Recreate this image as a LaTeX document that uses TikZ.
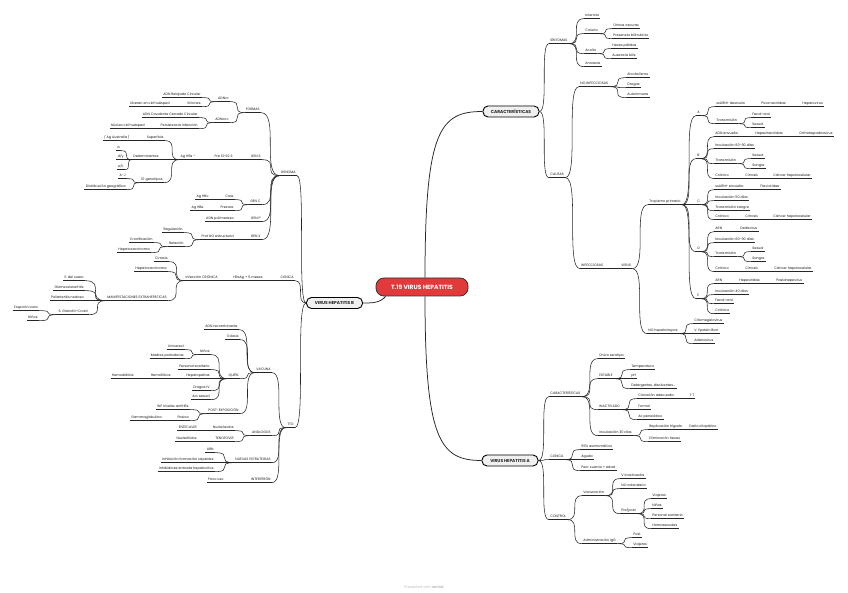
\documentclass[tikz,border=0pt]{standalone}
\usepackage{fontspec}
\setmainfont{Poppins}
\newfontfamily\dv{DejaVu Sans}
\definecolor{ink}{HTML}{262626}
\definecolor{redn}{HTML}{E23A3A}
\newcommand\fs{\fontsize{3.4}{4}\selectfont}
\tikzset{
  ln/.style={draw=ink, line width=0.55pt},
  lnb/.style={draw=ink, line width=0.75pt},
  tp/.style={font=\fs, text=black!90, inner xsep=1.2pt, inner ysep=0.9pt, text height=2.4pt, text depth=0.7pt},
  box/.style={draw=black, line width=0.9pt, fill=black!6, rounded corners=5pt, minimum width=56pt, minimum height=11pt, inner sep=1pt, font=\fontsize{4.3}{5}\selectfont\bfseries, text=black!85},
  title/.style={draw=black!80, line width=0.8pt, fill=redn, rounded corners=8pt, minimum width=92pt, minimum height=18pt, inner sep=1pt, font=\fontsize{6}{7}\selectfont\bfseries, text=white}
}
\newcommand{\TR}[3]{\node[tp,anchor=west] (#1) at (#2) {#3}; \draw[ln] (#1.south west) -- (#1.south east);}
\newcommand{\TL}[3]{\node[tp,anchor=east] (#1) at (#2) {#3}; \draw[ln] (#1.south west) -- (#1.south east);}
\newcommand{\cR}[2]{\draw[ln] (#1.south east) .. controls (#1.south east -| #2.south west) and (#2.south west -| #1.south east) .. (#2.south west);}
\newcommand{\cL}[2]{\draw[ln] (#1.south west) .. controls (#1.south west -| #2.south east) and (#2.south east -| #1.south west) .. (#2.south east);}
\newcommand{\cRb}[2]{\draw[ln] (#1.east) .. controls (#1.east -| #2.south west) and (#2.south west -| #1.east) .. (#2.south west);}
\newcommand{\cLb}[2]{\draw[ln] (#1.west) .. controls (#1.west -| #2.south east) and (#2.south east -| #1.west) .. (#2.south east);}
\begin{document}
\begin{tikzpicture}[x=1pt,y=-1pt]
\fill[white] (0,0) rectangle (848,593);
\useasboundingbox (0,0) rectangle (848,593);

% main nodes
\node[title] (root) at (422,287) {T.19 VIRUS HEPATITIS};
\node[box] (car) at (511,111.5) {CARACTERÍSTICAS};
\node[box] (vha) at (510,460.5) {VIRUS HEPATITIS A};
\node[box] (vhb) at (334.5,303) {VIRUS HEPATITIS B};
\draw[lnb] ([xshift=3pt]root.north) .. controls (425,130) and (440,111.5) .. (car.west);
\draw[lnb] ([xshift=3pt]root.south) .. controls (425,440) and (440,460.5) .. (vha.west);
\draw[lnb] ([xshift=10pt]root.south west) .. controls (380,303) and (372,303) .. (vhb.east);

% ---------- CARACTERISTICAS ----------
\TR{sin}{549,41}{SÍNTOMAS}
\TR{ict}{584,16}{Ictericia}
\TR{col}{584,31}{Coluria}
\TR{ori}{612,26}{Orinas oscuras}
\TR{pbi}{612,36}{Presencia bilirrubina}
\TR{aco}{584,51}{Acolia}
\TR{hpa}{611,46}{Heces pálidas}
\TR{abi}{611,56}{Ausencia bilis}
\TR{ano}{584,64}{Anorexia}
\TR{cau}{549,175}{CAUSAS}
\TR{noi}{579,84}{NO INFECCIOSAS}
\TR{alc}{626,75}{Alcoholismo}
\TR{dro}{626,85}{Drogas}
\TR{aut}{626,95}{Autoinmune}
\TR{inf}{580,266}{INFECCIOSAS}
\TR{vir}{620,266}{VIRUS}
\TR{tro}{648,202}{Tropismo primario}
\TR{nht}{647,331}{NO hepatotropos}
\TR{cmv}{693,321}{Citomegalovirus}
\TR{veb}{693,331}{V. Epstein Barr}
\TR{ade}{693,341}{Adenovirus}

\TR{A}{696,113}{A}
\TR{a1}{715,104}{ssARN+ desnudo}
\TR{a2}{760,104}{Picornaviridae}
\TR{a3}{801,104}{Hepatovirus}
\TR{a4}{715,121}{Transmisión}
\TR{a5}{751,115}{Fecal-oral}
\TR{a6}{751,125}{Sexual}

\TR{B}{696,156}{B}
\TR{b1}{714,134}{ADN envuelto}
\TR{b2}{754,134}{Hepadnaviridae}
\TR{b3}{798,134}{Orthohepadnavirus}
\TR{b4}{714,146}{Incubación 60-90 días}
\TR{b5}{714,161}{Transmisión}
\TR{b6}{751,156}{Sexual}
\TR{b7}{751,166}{Sangre}
\TR{b8}{714,176}{Crónico}
\TR{b9}{744,176}{Cirrosis}
\TR{b10}{772,176}{Cáncer hepatocelular}

\TR{C}{696,202}{C}
\TR{c1}{714,187}{ssARN+ envuelto}
\TR{c2}{759,187}{Flaviviridae}
\TR{c3}{714,198}{Incubación 50 días}
\TR{c4}{714,208}{Transmisión sangre}
\TR{c5}{714,217}{Crónico}
\TR{c6}{744,217}{Cirrosis}
\TR{c7}{772,217}{Cáncer hepatocelular}

\TR{D}{696,249}{D}
\TR{d1}{714,229}{ARN}
\TR{d2}{739,229}{Deltavirus}
\TR{d3}{714,240}{Incubación 60-90 días}
\TR{d4}{714,254}{Transmisión}
\TR{d5}{751,249}{Sexual}
\TR{d6}{751,259}{Sangre}
\TR{d7}{714,269}{Crónico}
\TR{d8}{744,269}{Cirrosis}
\TR{d9}{773,269}{Cáncer hepatocelular}

\TR{E}{696,296}{E}
\TR{e1}{714,281}{ARN}
\TR{e2}{738,281}{Hepeviridae}
\TR{e3}{775,281}{Paslahepevirus}
\TR{e4}{714,292}{Incubación 40 días}
\TR{e5}{714,301}{Fecal-oral}
\TR{e6}{714,311}{Crónica}

\cRb{car}{sin} \cRb{car}{cau}
\cR{sin}{ict} \cR{sin}{col} \cR{sin}{aco} \cR{sin}{ano}
\cR{col}{ori} \cR{col}{pbi} \cR{aco}{hpa} \cR{aco}{abi}
\cR{cau}{noi} \cR{cau}{inf}
\cR{noi}{alc} \cR{noi}{dro} \cR{noi}{aut}
\cR{inf}{vir} \cR{vir}{tro} \cR{vir}{nht}
\cR{nht}{cmv} \cR{nht}{veb} \cR{nht}{ade}
\cR{tro}{A} \cR{tro}{B} \cR{tro}{C} \cR{tro}{D} \cR{tro}{E}
\cR{A}{a1} \cR{a1}{a2} \cR{a2}{a3} \cR{A}{a4} \cR{a4}{a5} \cR{a4}{a6}
\cR{B}{b1} \cR{b1}{b2} \cR{b2}{b3} \cR{B}{b4} \cR{B}{b5} \cR{b5}{b6} \cR{b5}{b7} \cR{B}{b8} \cR{b8}{b9} \cR{b9}{b10}
\cR{C}{c1} \cR{c1}{c2} \cR{C}{c3} \cR{C}{c4} \cR{C}{c5} \cR{c5}{c6} \cR{c6}{c7}
\cR{D}{d1} \cR{d1}{d2} \cR{D}{d3} \cR{D}{d4} \cR{d4}{d5} \cR{d4}{d6} \cR{D}{d7} \cR{d7}{d8} \cR{d8}{d9}
\cR{E}{e1} \cR{e1}{e2} \cR{e2}{e3} \cR{E}{e4} \cR{E}{e5} \cR{E}{e6}

% ---------- VIRUS HEPATITIS A ----------
\TR{vcar}{549,394}{CARACTERÍSTICAS}
\TR{uni}{598,356}{Único serotipo}
\TR{est}{598,376}{ESTABLE}
\TR{tem}{630,367}{Temperatura}
\TR{ph}{630,376}{pH}
\TR{det}{630,386}{Detergentes, disolventes...}
\TR{ina}{598,407}{INACTIVADO}
\TR{clo}{637,396}{Cloración adecuada}
\TR{uT}{688,396}{{\dv ↑}T}
\TR{fml}{637,407}{Formol}
\TR{acp}{637,417}{Ac peracético}
\TR{inc}{598,433}{Incubación 30 días}
\TR{rep}{648,427}{Replicación hígado}
\TR{dan}{688,427}{Daño citopático}
\TR{eli}{648,439}{Eliminación heces}
\TR{cli}{549,457}{CLÍNICA}
\TR{asi}{580,447}{95\% asintomática}
\TR{agu}{580,457}{Aguda}
\TR{peo}{580,468}{Peor cuanto + edad}
\TR{con}{549,517}{CONTROL}
\TR{vac}{582,493}{Vacunación}
\TR{vin}{620,476}{V inactivados}
\TR{noc}{620,486}{NO calendario}
\TR{pro}{620,511}{Pre/post}
\TR{via}{651,496}{Viajeros}
\TR{nin}{651,506}{Niños}
\TR{per}{651,516}{Personal sanitario}
\TR{hom}{651,526}{Homosexuales}
\TR{adm}{582,541}{Administración IgG}
\TR{pos}{632,535}{Post}
\TR{via2}{632,545}{Viajeros}

\cRb{vha}{vcar} \cRb{vha}{cli} \cRb{vha}{con}
\cR{vcar}{uni} \cR{vcar}{est} \cR{vcar}{ina} \cR{vcar}{inc}
\cR{est}{tem} \cR{est}{ph} \cR{est}{det}
\cR{ina}{clo} \cR{clo}{uT} \cR{ina}{fml} \cR{ina}{acp}
\cR{inc}{rep} \cR{rep}{dan} \cR{inc}{eli}
\cR{cli}{asi} \cR{cli}{agu} \cR{cli}{peo}
\cR{con}{vac} \cR{con}{adm}
\cR{vac}{vin} \cR{vac}{noc} \cR{vac}{pro}
\cR{pro}{via} \cR{pro}{nin} \cR{pro}{per} \cR{pro}{hom}
\cR{adm}{pos} \cR{adm}{via2}

% ---------- VIRUS HEPATITIS B ----------
\TL{Lgen}{297,173}{GENOMA}
\TL{Lfor}{261,110}{FORMAS}
\TL{Lrc}{230,99}{ADNrc}
\TL{Lrc1}{202,95}{ADN Relajado Circular}
\TL{Lrc2}{202,104}{Viriones}
\TL{Lrc3}{171,104}{Liberan en cél huésped}
\TL{Lccc}{230,120}{ADNccc}
\TL{Lccc1}{199,115}{ADN Covalente Cerrado Circular}
\TL{Lccc2}{199,126}{Persistencia infección}
\TL{Lccc3}{146,126}{Núcleo cél huésped}
\TL{Lgs}{262,157}{GEN S}
\TL{Lpre}{234,157}{Pre S1-S2 S}
\TL{Lhbs}{197,157}{Ag HBs –}
\TL{Lsup}{165,138}{Superficie}
\TL{Laus}{131,138}{/ Ag Australia /}
\TL{Ldet}{160,157}{Determinantes}
\TL{La}{121,148}{a}
\TL{Ldy}{125,157}{d/y}
\TL{Lwr}{125,167}{w/r}
\TL{Lgeno}{164,180}{10 genotipos}
\TL{Laj}{127,176}{A-J}
\TL{Ldis}{127,187}{Distribución geográfica}
\TL{Lgc}{262,202}{GEN C}
\TL{Lcore}{235,197}{Core}
\TL{Lhbc}{210,197}{Ag HBc}
\TL{Lprec}{235,208}{Precore}
\TL{Lhbe}{205,208}{Ag HBe}
\TL{Lgp}{262,219}{GEN P}
\TL{Lpol}{235,219}{ADN polimerasa}
\TL{Lgx}{262,237}{GEN X}
\TL{Lprot}{235,237}{Prot NO estructural}
\TL{Lreg}{184,230}{Regulación}
\TL{Lrel}{185,244}{Relación}
\TL{Lcro}{154,240}{Cronificación}
\TL{Lhep}{151,250}{Hepatocarcinoma}
\TL{Lcli}{295,278}{CLÍNICA}
\TL{Lhbsag}{264,278}{HBsAg + 6 meses}
\TL{Linf}{219,278}{Infección CRÓNICA}
\TL{Lcir}{169,259}{Cirrosis}
\TL{Lhep2}{168,269}{Hepatocarcinoma}
\TL{Lman}{168,298}{MANIFESTACIONES EXTRAHEPÁTICAS}
\TL{Lsue}{85,278}{E. del suero}
\TL{Lglo}{85,288}{Glomerulonefritis}
\TL{Lpol2}{85,298}{Poliarteritis nodosa}
\TL{Lgia}{89,312}{S. Gianotti-Crosti}
\TL{Leru}{39,308}{Erupción cara}
\TL{Lnin}{39,318}{Niños}
\TL{Ltto}{295,425}{TTO}
\TL{Lvac}{272,370}{VACUNA}
\TL{Ladn}{239,327}{ADN recombinante}
\TL{L3d}{240,337}{3 dosis}
\TL{Lqui}{240,376}{QUIÉN}
\TL{Lnin2}{211,352}{Niños}
\TL{Luni}{185,347}{Universal}
\TL{Lmad}{185,356}{Madres portadoras}
\TL{Lps}{211,367}{Personal sanitario}
\TL{Lhpt}{211,376}{Hepatopatías}
\TL{Lhmf}{172,376}{Hemofílicos}
\TL{Lhmd}{135,376}{Hemodiálisis}
\TL{Ldiv}{211,388}{Drogas IV}
\TL{Lact}{211,397}{Act sexual}
\TL{Lpex}{240,411}{POST-EXPOSICIÓN}
\TL{Linf2}{190,407}{INF niveles antiHBs}
\TL{Lpas}{190,418}{Pasiva}
\TL{Lgam}{163,418}{Gammaglobulina}
\TL{Lana}{272,433}{ANÁLOGOS}
\TL{Lnsd}{235,428}{Nucleósidos}
\TL{Lent}{198,428}{ENTECAVIR}
\TL{Lten}{235,439}{TENOFOVIR}
\TL{Lntd}{198,439}{Nucleótidos}
\TL{Lnue}{272,460}{NUEVAS ESTRATEGIAS}
\TL{Larn}{215,450}{ARN}
\TL{Linh}{215,460}{Inhibición formación cápsides}
\TL{Linh2}{215,469}{Inhibidores entrada hepatocitos}
\TL{Lint}{272,480}{INTERFERÓN}
\TL{Lpoc}{225,480}{Poco uso}

\cLb{vhb}{Lgen} \cLb{vhb}{Lcli} \cLb{vhb}{Ltto}
\cL{Lgen}{Lfor} \cL{Lgen}{Lgs} \cL{Lgen}{Lgc} \cL{Lgen}{Lgp} \cL{Lgen}{Lgx}
\cL{Lfor}{Lrc} \cL{Lfor}{Lccc}
\cL{Lrc}{Lrc1} \cL{Lrc}{Lrc2} \cL{Lrc2}{Lrc3}
\cL{Lccc}{Lccc1} \cL{Lccc}{Lccc2} \cL{Lccc2}{Lccc3}
\cL{Lgs}{Lpre} \cL{Lpre}{Lhbs}
\cL{Lhbs}{Lsup} \cL{Lhbs}{Ldet} \cL{Lhbs}{Lgeno}
\cL{Lsup}{Laus}
\cL{Ldet}{La} \cL{Ldet}{Ldy} \cL{Ldet}{Lwr}
\cL{Lgeno}{Laj} \cL{Lgeno}{Ldis}
\cL{Lgc}{Lcore} \cL{Lgc}{Lprec} \cL{Lcore}{Lhbc} \cL{Lprec}{Lhbe}
\cL{Lgp}{Lpol}
\cL{Lgx}{Lprot} \cL{Lprot}{Lreg} \cL{Lprot}{Lrel} \cL{Lrel}{Lcro} \cL{Lrel}{Lhep}
\cL{Lcli}{Lhbsag} \cL{Lhbsag}{Linf}
\cL{Linf}{Lcir} \cL{Linf}{Lhep2} \cL{Linf}{Lman}
\cL{Lman}{Lsue} \cL{Lman}{Lglo} \cL{Lman}{Lpol2} \cL{Lman}{Lgia}
\cL{Lgia}{Leru} \cL{Lgia}{Lnin}
\cL{Ltto}{Lvac} \cL{Ltto}{Lana} \cL{Ltto}{Lnue} \cL{Ltto}{Lint}
\cL{Lvac}{Ladn} \cL{Lvac}{L3d} \cL{Lvac}{Lqui} \cL{Lvac}{Lpex}
\cL{Lqui}{Lnin2} \cL{Lqui}{Lps} \cL{Lqui}{Lhpt} \cL{Lqui}{Ldiv} \cL{Lqui}{Lact}
\cL{Lnin2}{Luni} \cL{Lnin2}{Lmad}
\cL{Lhpt}{Lhmf} \cL{Lhmf}{Lhmd}
\cL{Lpex}{Linf2} \cL{Lpex}{Lpas} \cL{Lpas}{Lgam}
\cL{Lana}{Lnsd} \cL{Lana}{Lten} \cL{Lnsd}{Lent} \cL{Lten}{Lntd}
\cL{Lnue}{Larn} \cL{Lnue}{Linh} \cL{Lnue}{Linh2}
\cL{Lint}{Lpoc}

% footer
\node[font=\fontsize{3.6}{4}\selectfont, text=black!25] (foot) at (424,587) {Presented with \textbf{xmind}};
\end{tikzpicture}
\end{document}
